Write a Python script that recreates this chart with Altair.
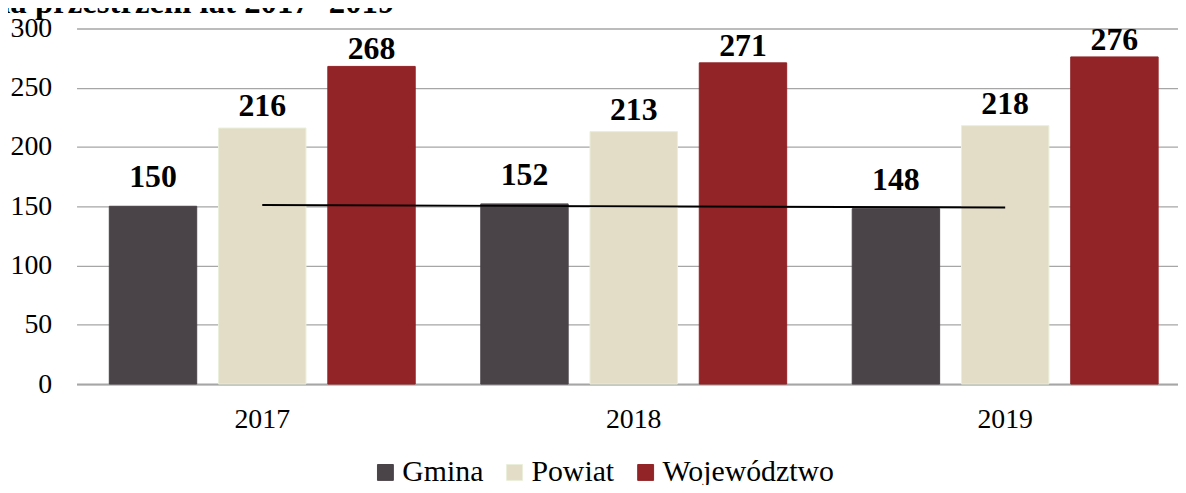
import altair as alt
import pandas as pd

years = ["2017", "2018", "2019"]
series = ["Gmina", "Powiat", "Województwo"]
gmina = [150, 152, 148]
powiat = [216, 213, 218]
wojewodztwo = [268, 271, 276]
# linear trend of Gmina at its two ends
trend_years = ["2017", "2019"]
trend_values = [151, 149]
colors = ["#4A4449", "#E3DDC8", "#922326"]
strokes = ["#4A4449", "#E9EFD9", "#922326"]
label_dy = [-19, -12, -7]
y_ticks = [0, 50, 100, 150, 200, 250, 300]
title_text = "na przestrzeni lat 2017- 2019"

FONT = "Liberation Serif"
PLOT_W = 1109
STEP = 374

rows = []
for i, yr in enumerate(years):
    for s, vals in zip(series, [gmina, powiat, wojewodztwo]):
        rows.append({"year": yr, "series": s, "value": vals[i]})
df = pd.DataFrame(rows)
trend_df = pd.DataFrame({"year": trend_years, "value": trend_values})

xscale = alt.Scale(domain=years, range=[0, STEP * len(years)], paddingInner=0, paddingOuter=0)
yscale = alt.Scale(domain=[0, 300])
offscale = alt.Scale(domain=series, paddingInner=0.2, paddingOuter=0.3)

x_axis = alt.Axis(labelAngle=0, ticks=False, domain=True, domainColor="#A6A6A6",
                  domainWidth=2, labelPadding=22, labelFont=FONT, labelFontSize=28,
                  labelColor="black", grid=False)
y_axis = alt.Axis(values=y_ticks, grid=True, gridColor="#A6A6A6", gridWidth=1.3,
                  domain=False, ticks=False, labelPadding=25, labelFont=FONT,
                  labelFontSize=28, labelColor="black")

X = alt.X("year:N", scale=xscale, title=None, axis=x_axis)
Y = alt.Y("value:Q", scale=yscale, title=None, axis=y_axis)
XO = alt.XOffset("series:N", scale=offscale, sort=series)

bars = alt.Chart(df).mark_bar(strokeWidth=1).encode(
    x=X,
    xOffset=XO,
    y=Y,
    color=alt.Color("series:N", scale=alt.Scale(domain=series, range=colors), sort=series,
                    legend=alt.Legend(title=None, orient="none", legendX=296, legendY=432,
                                      direction="horizontal", symbolType="square",
                                      symbolSize=256, symbolStrokeWidth=1,
                                      labelFont=FONT, labelFontSize=30, labelColor="black",
                                      labelOffset=2, columnPadding=16, padding=0,
                                      labelLimit=0)),
    stroke=alt.Stroke("series:N", scale=alt.Scale(domain=series, range=strokes), sort=series),
)

label_layers = []
for s, d in zip(series, label_dy):
    label_layers.append(
        alt.Chart(df)
        .transform_filter(alt.datum.series == s)
        .mark_text(font=FONT, fontWeight="bold", fontSize=32, baseline="alphabetic",
                   dy=d, color="black")
        .encode(x=X, xOffset=XO, y=Y, text=alt.Text("value:Q"))
    )

trend = (
    alt.Chart(trend_df)
    .mark_line(color="black", strokeWidth=2)
    .encode(x=alt.X("year:N", scale=xscale, title=None, axis=x_axis, bandPosition=0.5), y=Y)
)

title = (
    alt.Chart(pd.DataFrame({"t": [title_text]}))
    .mark_text(font=FONT, fontWeight="bold", fontSize=33, align="right", baseline="alphabetic",
               color="black")
    .encode(text="t:N", x=alt.value(320), y=alt.value(-16))
)

chart = (
    alt.layer(bars, *label_layers, trend, title)
    .properties(width=PLOT_W, height=358, autosize=alt.AutoSizeParams(type="none"),
                padding={"left": 69, "top": 19, "right": 0, "bottom": 100})
    .configure_view(stroke=None)
)

chart.save("out.html", embed_options={"renderer": "svg", "actions": False})
